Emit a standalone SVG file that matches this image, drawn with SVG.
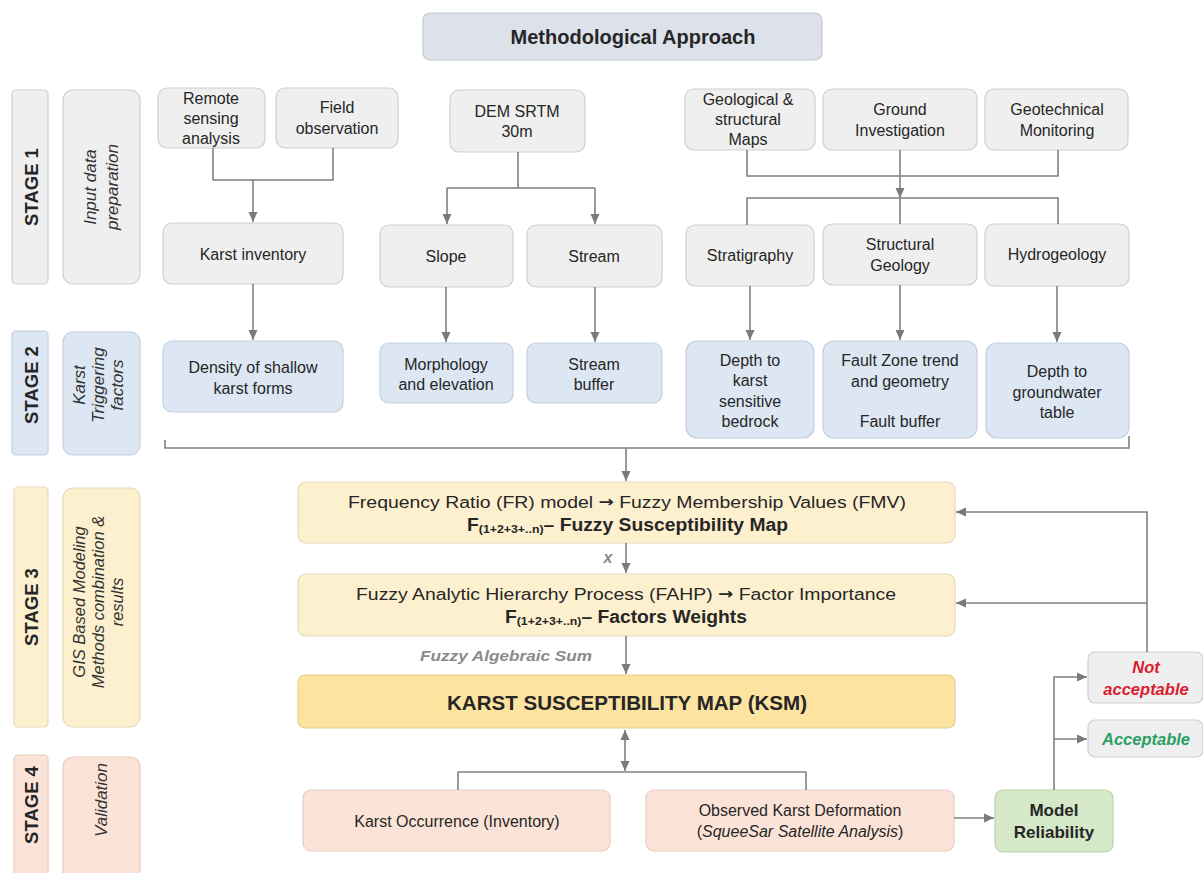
<svg xmlns="http://www.w3.org/2000/svg" width="1203" height="873" viewBox="0 0 1203 873">
<style>
text{font-family:"Liberation Sans",Arial,sans-serif;font-size:16px;fill:#262626;text-anchor:middle;dominant-baseline:central}
.b{font-weight:bold}
.i{font-style:italic}
.ar{font-weight:bold;font-family:"DejaVu Sans",sans-serif;font-size:15px}
.g1{fill:#efefef;stroke:#cfcfcf;stroke-width:1.2}
.g2{fill:#dce7f3;stroke:#c3d0df;stroke-width:1.2}
.g3{fill:#fdf0cf;stroke:#e6d9b8;stroke-width:1.2}
.g4{fill:#fbe4d7;stroke:#e4cec2;stroke-width:1.2}
.ksm{fill:#fce3a0;stroke:#e6cf8c;stroke-width:1.2}
.mr{fill:#d5e8c8;stroke:#bcd2ad;stroke-width:1.2}
.ti{fill:#dde1ea;stroke:#c2c7d1;stroke-width:1.2}
.ln{fill:none;stroke:#808080;stroke-width:1.6}
.st{font-weight:bold;font-size:18.5px}
.lab{font-style:italic;font-size:17px;fill:#333}
.f2{font-weight:bold;font-size:18px;text-anchor:start}
</style>
<defs>
<marker id="ah" markerUnits="userSpaceOnUse" markerWidth="10" markerHeight="10" refX="10" refY="5" orient="auto-start-reverse" viewBox="0 0 10 10">
<path d="M0,0.5 L10,5 L0,9.5 z" fill="#7a7a7a"/>
</marker>
</defs>

<g id="title"><rect class="ti" x="423" y="13" width="399" height="47" rx="7"/><text class="b" x="633" y="37" style="font-size:20px">Methodological Approach</text></g>

<g id="stage1"><rect class="g1" x="12" y="90" width="36" height="194" rx="4"/><text class="st" transform="translate(31,187) rotate(-90)">STAGE 1</text></g>
<g id="stage1-label"><rect class="g1" x="63" y="90" width="77" height="194" rx="10"/><text class="lab" transform="translate(101,187) rotate(-90)"><tspan x="0" y="-11">Input data</tspan><tspan x="0" y="11">preparation</tspan></text></g>
<g id="stage2"><rect class="g2" x="12" y="331" width="36" height="124" rx="4"/><text class="st" transform="translate(31,385) rotate(-90)">STAGE  2</text></g>
<g id="stage2-label"><rect class="g2" x="63" y="332" width="77" height="123" rx="10"/><text class="lab" transform="translate(99,385) rotate(-90)"><tspan x="0" y="-20">Karst</tspan><tspan x="0" y="-1">Triggering</tspan><tspan x="0" y="18">factors</tspan></text></g>
<g id="stage3"><rect class="g3" x="14" y="487" width="34" height="240" rx="4"/><text class="st" transform="translate(31,607) rotate(-90)">STAGE 3</text></g>
<g id="stage3-label"><rect class="g3" x="63" y="488" width="77" height="239" rx="10"/><text class="lab" transform="translate(98,602) rotate(-90)" style="font-size:16.5px"><tspan x="0" y="-19">GIS Based Modeling</tspan><tspan x="0" y="0">Methods combination &amp;</tspan><tspan x="0" y="19">results</tspan></text></g>
<g id="stage4"><rect class="g4" x="14" y="755" width="34" height="125" rx="4"/><text class="st" transform="translate(31,805) rotate(-90)">STAGE 4</text></g>
<g id="stage4-label"><rect class="g4" x="63" y="757" width="77" height="125" rx="10"/><text class="lab" transform="translate(101,800) rotate(-90)">Validation</text></g>

<g id="remote"><rect class="g1" x="158" y="88" width="107" height="60" rx="9"/><text x="211" y="98">Remote</text><text x="211" y="118">sensing</text><text x="211" y="138">analysis</text></g>
<g id="field"><rect class="g1" x="276" y="88" width="122" height="60" rx="9"/><text x="337" y="107">Field</text><text x="337" y="128">observation</text></g>
<g id="dem"><rect class="g1" x="450" y="90" width="135" height="62" rx="9"/><text x="517" y="111">DEM SRTM</text><text x="517" y="131">30m</text></g>
<g id="geomaps"><rect class="g1" x="685" y="89" width="130" height="61" rx="9"/><text x="748" y="99">Geological  &amp;</text><text x="748" y="119">structural</text><text x="748" y="139">Maps</text></g>
<g id="ground"><rect class="g1" x="823" y="89" width="154" height="61" rx="9"/><text x="900" y="109">Ground</text><text x="900" y="130">Investigation</text></g>
<g id="geotech"><rect class="g1" x="985" y="89" width="143" height="61" rx="9"/><text x="1057" y="109">Geotechnical</text><text x="1057" y="130">Monitoring</text></g>

<g id="karstinv"><rect class="g1" x="163" y="223" width="180" height="61" rx="9"/><text x="253" y="254">Karst inventory</text></g>
<g id="slope"><rect class="g1" x="380" y="225" width="133" height="62" rx="9"/><text x="446" y="256">Slope</text></g>
<g id="stream"><rect class="g1" x="527" y="225" width="135" height="62" rx="9"/><text x="594" y="256">Stream</text></g>
<g id="strat"><rect class="g1" x="686" y="225" width="128" height="61" rx="9"/><text x="750" y="255">Stratigraphy</text></g>
<g id="structgeo"><rect class="g1" x="823" y="224" width="154" height="61" rx="9"/><text x="900" y="244">Structural</text><text x="900" y="265">Geology</text></g>
<g id="hydro"><rect class="g1" x="985" y="224" width="144" height="62" rx="9"/><text x="1057" y="254">Hydrogeology</text></g>

<g id="density"><rect class="g2" x="163" y="341" width="180" height="71" rx="9"/><text x="253" y="367">Density of shallow</text><text x="253" y="388">karst forms</text></g>
<g id="morph"><rect class="g2" x="380" y="343" width="133" height="60" rx="9"/><text x="446" y="364">Morphology</text><text x="446" y="384">and elevation</text></g>
<g id="streambuf"><rect class="g2" x="527" y="343" width="135" height="60" rx="9"/><text x="594" y="364">Stream</text><text x="594" y="384">buffer</text></g>
<g id="depthkarst"><rect class="g2" x="686" y="341" width="128" height="97" rx="11"/><text x="750" y="360">Depth to</text><text x="750" y="380">karst</text><text x="750" y="401">sensitive</text><text x="750" y="421">bedrock</text></g>
<g id="fault"><rect class="g2" x="823" y="341" width="154" height="97" rx="11"/><text x="900" y="360">Fault Zone  trend</text><text x="900" y="381">and geometry</text><text x="900" y="421">Fault buffer</text></g>
<g id="depthgw"><rect class="g2" x="986" y="343" width="143" height="95" rx="11"/><text x="1057" y="371">Depth to</text><text x="1057" y="392">groundwater</text><text x="1057" y="412">table</text></g>

<g id="fr"><rect class="g3" x="298" y="482" width="657" height="61" rx="8"/><text x="627" y="502" textLength="558" lengthAdjust="spacingAndGlyphs">Frequency Ratio (FR) model  <tspan class="ar">→</tspan>  Fuzzy Membership Values (FMV)</text><text class="f2" x="467" y="525" textLength="321" lengthAdjust="spacingAndGlyphs">F<tspan dy="4" style="font-size:11.5px">(1+2+3+..n)</tspan><tspan dy="-4">– Fuzzy Susceptibility Map</tspan></text></g>
<g id="fahp"><rect class="g3" x="298" y="574" width="657" height="62" rx="8"/><text x="626" y="594" textLength="540" lengthAdjust="spacingAndGlyphs">Fuzzy Analytic  Hierarchy Process (FAHP) <tspan class="ar">→</tspan>  Factor Importance</text><text class="f2" x="505" y="617" textLength="242" lengthAdjust="spacingAndGlyphs">F<tspan dy="4" style="font-size:11.5px">(1+2+3+..n)</tspan><tspan dy="-4">– Factors Weights</tspan></text></g>
<g id="ksm"><rect class="ksm" x="298" y="675" width="657" height="53" rx="7"/><text class="b" x="627" y="703" style="font-size:20px" textLength="360" lengthAdjust="spacingAndGlyphs">KARST SUSCEPTIBILITY MAP (KSM)</text></g>

<g id="occurrence"><rect class="g4" x="303" y="790" width="307" height="61" rx="8"/><text x="457" y="821">Karst Occurrence (Inventory)</text></g>
<g id="observed"><rect class="g4" x="646" y="790" width="308" height="61" rx="8"/><text x="800" y="810">Observed Karst Deformation</text><text x="800" y="831">(<tspan class="i">SqueeSar Satellite Analysis</tspan>)</text></g>
<g id="reliability"><rect class="mr" x="995" y="790" width="118" height="62" rx="8"/><text class="b" x="1054" y="810" style="font-size:17px">Model</text><text class="b" x="1054" y="832" style="font-size:17px">Reliability</text></g>
<g id="notacc"><rect class="g1" x="1088" y="652" width="115" height="51" rx="7"/><text class="b i" x="1146" y="667" style="fill:#d9202f;font-size:16.5px">Not</text><text class="b i" x="1146" y="689" style="fill:#d9202f;font-size:16.5px">acceptable</text></g>
<g id="acc"><rect class="g1" x="1088" y="720" width="115" height="37" rx="7"/><text class="b i" x="1146" y="739" style="fill:#2aa062;font-size:16.5px">Acceptable</text></g>

<g id="connectors">
<path class="ln" d="M213,148 V180 H333 V148"/>
<path class="ln" d="M253,180 V222" marker-end="url(#ah)"/>
<path class="ln" d="M518,152 V188 M447,188 H595"/>
<path class="ln" d="M447,188 V224" marker-end="url(#ah)"/>
<path class="ln" d="M595,188 V224" marker-end="url(#ah)"/>
<path class="ln" d="M747,150 V176 H1058 V150"/>
<path class="ln" d="M900,150 V198" marker-end="url(#ah)"/>
<path class="ln" d="M747,225 V198 H1058 V224 M900,198 V224"/>
<path class="ln" d="M253,284 V340" marker-end="url(#ah)"/>
<path class="ln" d="M446,287 V342" marker-end="url(#ah)"/>
<path class="ln" d="M595,287 V342" marker-end="url(#ah)"/>
<path class="ln" d="M750,286 V340" marker-end="url(#ah)"/>
<path class="ln" d="M900,285 V340" marker-end="url(#ah)"/>
<path class="ln" d="M1057,286 V342" marker-end="url(#ah)"/>
<path class="ln" d="M165,440 V448 H1129 V436"/>
<path class="ln" d="M626,448 V481" marker-end="url(#ah)"/>
<path class="ln" d="M626,543 V573" marker-end="url(#ah)"/>
<text class="b i" x="608" y="557" style="fill:#8a8a8a;font-size:16px">x</text>
<path class="ln" d="M626,636 V674" marker-end="url(#ah)"/>
<text class="b i" x="506" y="655" style="fill:#8a8a8a;font-size:15.5px" textLength="172" lengthAdjust="spacingAndGlyphs">Fuzzy Algebraic Sum</text>
<path class="ln" d="M625,730 V771" marker-start="url(#ah)" marker-end="url(#ah)"/>
<path class="ln" d="M458,790 V772 H806 V790"/>
<path class="ln" d="M954,818 H994" marker-end="url(#ah)"/>
<path class="ln" d="M1054,790 V677 H1087" marker-end="url(#ah)"/>
<path class="ln" d="M1054,739 H1087" marker-end="url(#ah)"/>
<path class="ln" d="M1147,652 V512 H956" marker-end="url(#ah)"/>
<path class="ln" d="M1147,603 H956" marker-end="url(#ah)"/>
</g>
</svg>
